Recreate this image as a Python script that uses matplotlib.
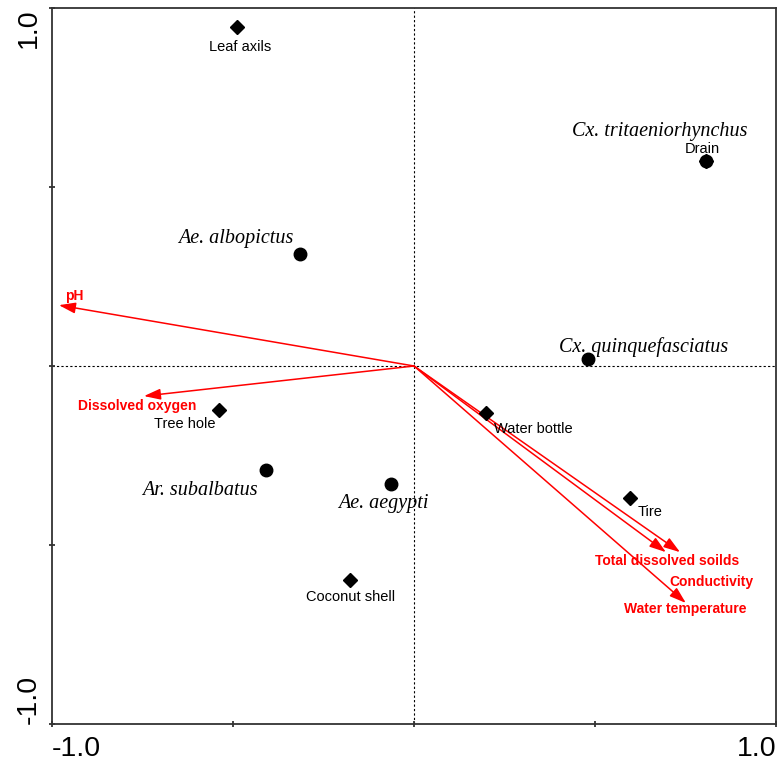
import matplotlib
matplotlib.use("Agg")
import matplotlib.pyplot as plt

# sites (diamonds)
sites = ["Leaf axils", "Drain", "Tree hole", "Water bottle", "Tire", "Coconut shell"]
site_x = [-0.489, 0.807, -0.539, 0.199, 0.597, -0.177]
site_y = [0.947, 0.573, -0.123, -0.131, -0.369, -0.598]

# species (circles)
species = ["Cx. tritaeniorhynchus", "Ae. albopictus", "Cx. quinquefasciatus",
           "Ar. subalbatus", "Ae. aegypti"]
sp_x = [0.807, -0.315, 0.481, -0.409, -0.064]
sp_y = [0.573, 0.313, 0.020, -0.291, -0.330]

# environmental vectors
env = ["pH", "Dissolved oxygen", "Total dissolved soilds", "Conductivity",
       "Water temperature"]
env_x = [-0.981, -0.746, 0.735, 0.696, 0.751]
env_y = [0.170, -0.084, -0.520, -0.520, -0.662]

site_off = [(0.01, -0.055), (-0.01, 0.034), (-0.095, -0.04), (0.13, -0.045),
            (0.055, -0.04), (0.003, -0.047)]
sp_off = [(-0.128, 0.081), (-0.178, 0.043), (0.152, 0.033), (-0.183, -0.058),
          (-0.02, -0.053)]
env_lab = [(-0.965, 0.196), (-0.765, -0.112), (0.700, -0.544), (0.822, -0.604),
           (0.748, -0.680)]

fig = plt.figure(figsize=(7.81, 7.61), dpi=100)
ax = fig.add_axes([0.0666, 0.0486, 0.927, 0.9409])
ax.set_xlim(-1, 1)
ax.set_ylim(-1, 1)

ax.axhline(0, color="black", lw=0.8, ls=(0, (2, 2)), zorder=1)
ax.axvline(0, color="black", lw=0.8, ls=(0, (2, 2)), zorder=1)

for x, y in zip(env_x, env_y):
    ax.annotate("", xy=(x, y), xytext=(0, 0),
                arrowprops=dict(arrowstyle="-|>,head_length=1.0,head_width=0.33",
                                color="red", lw=1.1, shrinkA=0, shrinkB=0))
for name, (lx, ly) in zip(env, env_lab):
    ax.text(lx, ly, name, color="red", fontsize=10, fontweight="bold",
            family="Liberation Sans", ha="left" if name == "pH" else "center",
            va="center")

ax.plot(sp_x, sp_y, "o", color="black", ms=9, zorder=3)
ax.plot(site_x, site_y, "D", color="black", ms=6.8, zorder=3)

for name, x, y, (dx, dy) in zip(sites, site_x, site_y, site_off):
    ax.text(x + dx, y + dy, name, fontsize=10.5, family="Liberation Sans",
            ha="center", va="center")
for name, x, y, (dx, dy) in zip(species, sp_x, sp_y, sp_off):
    ax.text(x + dx, y + dy, name, fontsize=14.5, family="Liberation Serif",
            style="italic", ha="center", va="center")

for s in ax.spines.values():
    s.set_color("#333333")
    s.set_linewidth(1.3)
ax.set_xticks([-1, -0.5, 0, 0.5, 1])
ax.set_yticks([-1, -0.5, 0, 0.5, 1])
ax.set_xticklabels(["-1.0", "", "", "", "1.0"])
ax.set_yticklabels(["-1.0", "", "", "", "1.0"], rotation=90)
ax.tick_params(direction="inout", length=5, width=1.3, color="#333333",
               labelsize=20.5)
ax.tick_params(axis="x", pad=6)
ax.tick_params(axis="y", pad=14)
for t in ax.get_xticklabels() + ax.get_yticklabels():
    t.set_family("Liberation Sans")
xl = ax.get_xticklabels()
xl[0].set_ha("left")
xl[-1].set_ha("right")
yl = ax.get_yticklabels()
yl[0].set_va("bottom")
yl[-1].set_va("top")
for t in yl:
    t.set_ha("center")

fig.savefig("out.png", dpi=100, facecolor="white")
